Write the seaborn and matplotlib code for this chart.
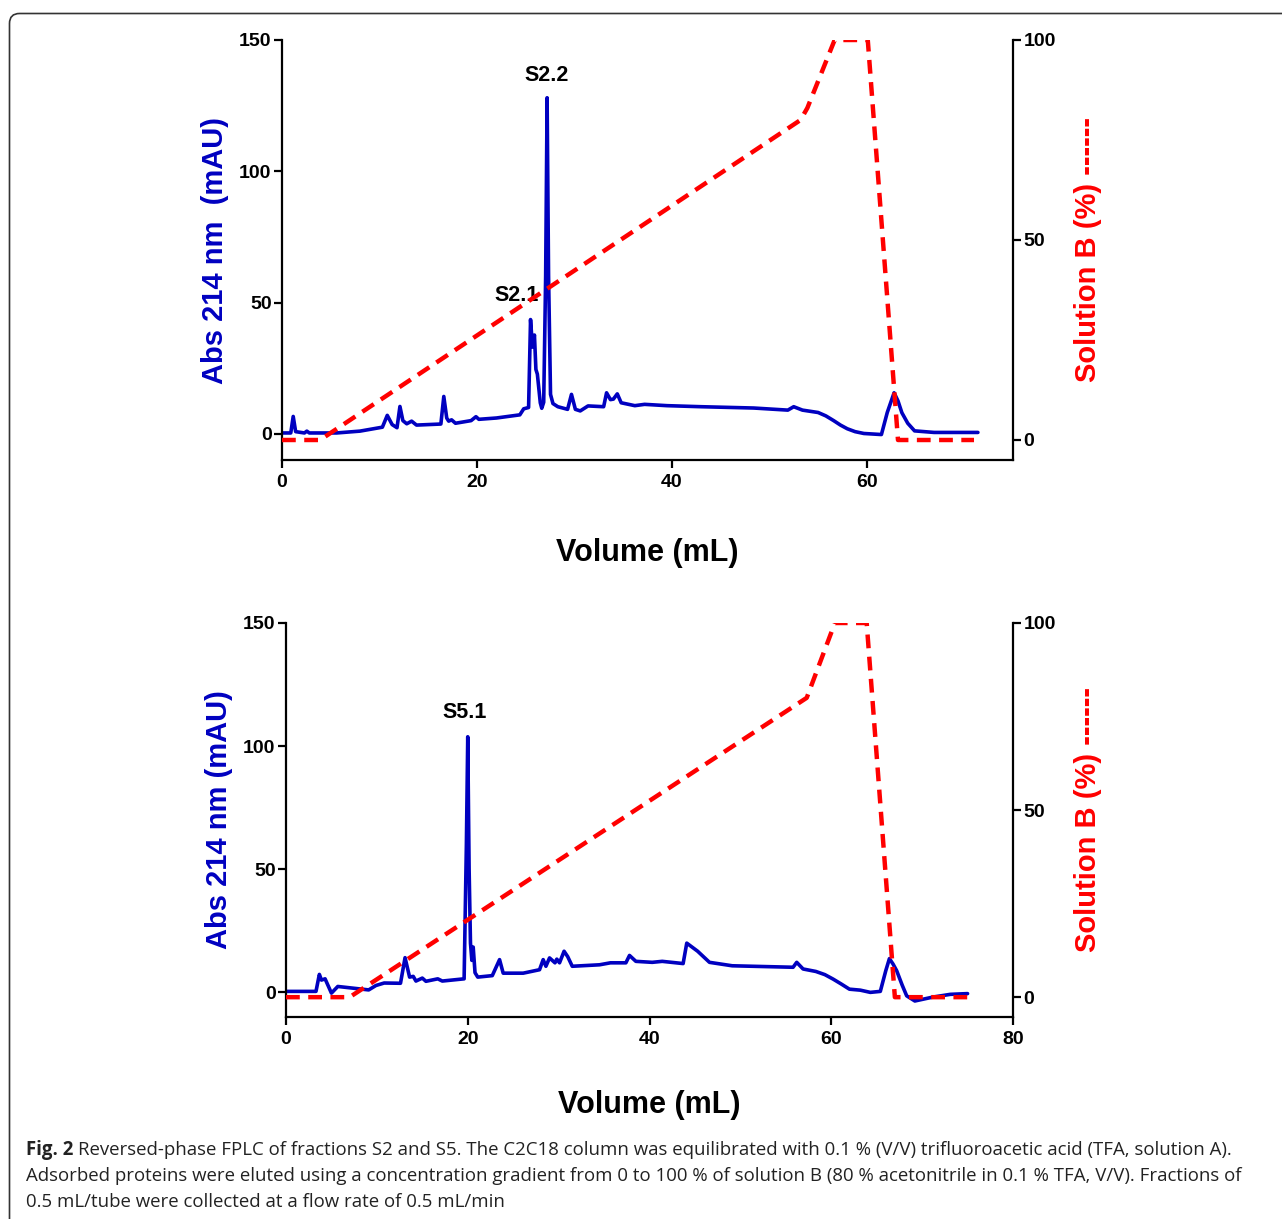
import matplotlib
matplotlib.use("Agg")
import matplotlib.pyplot as plt
import seaborn as sns
import numpy as np
import pandas as pd
from matplotlib.patches import FancyBboxPatch
from matplotlib.transforms import IdentityTransform

# ---------------- data ----------------
# Panel 1 (fraction S2): absorbance trace
s2_volume = [0, 0.9, 1.15, 1.4, 2.3, 2.55, 2.8, 5.6, 8.0, 10.3, 10.8, 11.3, 11.8, 12.1, 12.4,
             12.8, 13.3, 13.8, 16.3, 16.6, 16.9, 17.1, 17.4, 17.8, 19.4, 19.9, 20.2, 22.0,
             24.4, 24.8, 25.3, 25.5, 25.7, 25.9, 26.05, 26.2, 26.5, 26.65, 26.85, 27.05,
             27.2, 27.35, 27.55, 27.8, 28.3, 29.3, 29.7, 30.1, 30.6, 31.4, 33.0, 33.3,
             33.7, 34.0, 34.4, 34.8, 36.2, 37.2, 39.5, 43.0, 48.4, 51.9, 52.5, 53.4, 55.0,
             55.8, 56.6, 57.3, 58.0, 58.8, 59.7, 61.5, 62.1, 62.8, 63.2, 63.6, 64.2,
             64.9, 66.9, 71.4]
s2_abs = [0.3, 0.3, 6.6, 0.8, 0.3, 1.0, 0.3, 0.3, 1.0, 2.5, 7.0, 3.5, 2.3, 10.4, 5.0,
          3.8, 4.8, 3.3, 3.7, 14.2, 6.0, 4.8, 5.3, 4.0, 5.0, 6.5, 5.5, 6.0,
          7.2, 9.5, 10.0, 43.5, 33.0, 37.6, 24.5, 22.7, 11.8, 9.7, 12.0, 60.0,
          128.0, 60.0, 15.0, 11.5, 10.3, 9.3, 15.0, 9.3, 8.7, 10.6, 10.3, 15.6,
          13.0, 13.2, 15.2, 11.8, 10.7, 11.2, 10.7, 10.3, 9.8, 9.0, 10.3, 9.0, 8.1,
          6.8, 5.0, 3.3, 1.9, 0.8, 0.1, -0.3, 8.1, 15.6, 12.5, 8.0, 4.0,
          1.1, 0.5, 0.5]
# Panel 1 gradient (% solution B)
s2_grad_volume = [0, 3.9, 53.2, 53.9, 56.7, 60.1, 63.2, 71.0]
s2_grad_b = [0, 0, 80, 83, 100, 100, 0, 0]

# Panel 2 (fraction S5): absorbance trace
s5_volume = [0, 3.3, 3.67, 3.9, 4.3, 5.0, 5.7, 9.1, 9.9, 10.8, 12.6, 13.1, 13.6, 14.0, 14.3,
             15.0, 15.4, 16.7, 17.2, 19.6, 19.85, 20.0, 20.15, 20.3, 20.45, 20.6, 20.8,
             21.1, 22.7, 23.5, 23.9, 26.1, 27.9, 28.3, 28.6, 29.0, 29.6, 29.8, 30.1, 30.6,
             31.0, 31.5, 34.5, 35.7, 37.4, 37.8, 38.5, 40.3, 41.4, 43.7, 44.1, 45.3, 46.6,
             49.1, 55.8, 56.2, 56.9, 58.3, 59.3, 60.2, 61.1, 62.0, 63.2, 64.3, 65.4, 66.0,
             66.4, 66.8, 67.2, 67.8, 68.3, 69.2, 71.2, 73.1, 75.0]
s5_abs = [0.4, 0.4, 7.3, 5.0, 5.5, -0.3, 2.4, 1.0, 2.8, 3.8, 3.7, 14.1, 6.2, 6.5, 4.6,
          5.8, 4.5, 5.5, 4.6, 5.5, 60.0, 103.8, 50.0, 20.0, 13.0, 18.4, 8.0,
          6.2, 6.8, 13.3, 7.8, 7.8, 9.2, 13.3, 10.6, 14.0, 12.0, 13.5, 12.0, 16.7,
          14.5, 10.6, 11.2, 12.0, 12.0, 15.0, 12.6, 12.2, 12.6, 11.7, 20.0, 16.7, 12.2,
          10.8, 10.2, 12.2, 9.5, 8.5, 7.2, 5.4, 3.4, 1.3, 0.9, 0.0, 0.4, 8.8,
          13.7, 11.5, 8.8, 3.0, -1.4, -3.5, -1.9, -0.8, -0.5]
s5_grad_volume = [0, 7.0, 57.3, 60.4, 63.9, 67.0, 75.0]
s5_grad_b = [0, 0, 80, 100, 100, 0, 0]

# peak labels (text, volume, absorbance)
s2_peaks = [("S2.2", 27.1, 136.5), ("S2.1", 24.05, 52.5)]
s5_peaks = [("S5.1", 19.7, 113.5)]

x_ticks_top = [0, 20, 40, 60]
x_ticks_bottom = [0, 20, 40, 60, 80]
y_ticks_left = [0, 50, 100, 150]
y_ticks_right = [0, 50, 100]

caption_bold = "Fig. 2"
caption_lines = [
    "Reversed-phase FPLC of fractions S2 and S5. The C2C18 column was equilibrated with 0.1 % (V/V) trifluoroacetic acid (TFA, solution A).",
    "Adsorbed proteins were eluted using a concentration gradient from 0 to 100 % of solution B (80 % acetonitrile in 0.1 % TFA, V/V). Fractions of",
    "0.5 mL/tube were collected at a flow rate of 0.5 mL/min",
]

# ---------------- style ----------------
sns.set_theme(style="ticks")
plt.rcParams["font.family"] = ["Liberation Sans", "DejaVu Sans"]
plt.rcParams["font.weight"] = "bold"

BLUE = "#0000C0"
RED = "#FF0000"
W, H = 1282, 1219
fig = plt.figure(figsize=(W / 100, H / 100), dpi=100)
fig.patch.set_facecolor("white")


def px_rect(left, top, right, bottom):
    return [left / W, 1 - bottom / H, (right - left) / W, (bottom - top) / H]


def make_panel(rect, vol, absb, gvol, gb, xlim, xticks, peaks, r_ylim, ylabel):
    ax = fig.add_axes(rect)
    df = pd.DataFrame({"Volume": vol, "Abs": absb})
    sns.lineplot(data=df, x="Volume", y="Abs", ax=ax, color=BLUE, lw=2.6,
                 estimator=None, sort=False)
    ax.set_xlim(*xlim)
    ax.set_ylim(-10, 150)
    ax.set_xticks(xticks)
    ax.set_yticks(y_ticks_left)
    for s in ["top", "right"]:
        ax.spines[s].set_visible(False)
    for s in ["left", "bottom"]:
        ax.spines[s].set_linewidth(1.6)
        ax.spines[s].set_color("black")
    ax.tick_params(axis="both", direction="out", length=6, width=1.6, labelsize=14,
                   colors="black")
    ax.tick_params(axis="y", pad=1.5)
    ax.tick_params(axis="x", pad=4)
    for lab in ax.get_xticklabels() + ax.get_yticklabels():
        lab.set_fontweight("bold")
    ax.set_xlabel("Volume (mL)", fontsize=22, fontweight="bold", color="black")
    ax.xaxis.set_label_coords(0.5, -0.185)
    ax.set_ylabel(ylabel, fontsize=21, fontweight="bold", color=BLUE, va="center")
    ax.yaxis.set_label_coords(-0.092, 0.5)
    for txt, xv, yv in peaks:
        ax.text(xv, yv, txt, ha="center", va="center", fontsize=15.5,
                fontweight="bold", color="black")

    ax2 = ax.twinx()
    gdf = pd.DataFrame({"Volume": gvol, "B": gb})
    sns.lineplot(data=gdf, x="Volume", y="B", ax=ax2, color=RED, lw=3.2,
                 linestyle=(0, (3.1, 1.9)), estimator=None, sort=False)
    ax2.set_ylim(*r_ylim)
    ax2.set_yticks(y_ticks_right)
    ax2.set_xlim(*xlim)
    for s in ["top", "left", "bottom"]:
        ax2.spines[s].set_visible(False)
    ax2.spines["right"].set_linewidth(1.6)
    ax2.spines["right"].set_color("black")
    ax2.tick_params(axis="y", direction="out", length=6, width=1.6, labelsize=14,
                    colors="black", pad=1.5)
    for lab in ax2.get_yticklabels():
        lab.set_fontweight("bold")
    ax2.set_ylabel("Solution B (%) ------", fontsize=21, fontweight="bold",
                   color=RED, va="center", rotation=90)
    ax2.yaxis.set_label_coords(1.103, 0.5)
    ax.grid(False)
    ax2.grid(False)
    return ax, ax2


make_panel(px_rect(282, 40, 1013, 460), s2_volume, s2_abs, s2_grad_volume, s2_grad_b,
           (0, 75), x_ticks_top, s2_peaks, (-5, 100), "Abs 214 nm  (mAU)")
make_panel(px_rect(286, 623, 1013, 1017), s5_volume, s5_abs, s5_grad_volume, s5_grad_b,
           (0, 80), x_ticks_bottom, s5_peaks, (-5.3, 100), "Abs 214 nm (mAU)")

# ---------------- frame and caption ----------------
frame = FancyBboxPatch((9.5, -40), 1400, H - 13.5 + 40,
                       boxstyle="round,pad=0,rounding_size=10",
                       transform=IdentityTransform(), fill=False,
                       edgecolor="#333333", linewidth=1.2)
fig.add_artist(frame)

cap_fs = 13.4
cap_family = ["Open Sans", "DejaVu Sans"]
line_y = [1150, 1176, 1202]
x0 = 26 / W
renderer = fig.canvas.get_renderer()
tb = fig.text(x0, 1 - line_y[0] / H, caption_bold, fontsize=cap_fs, fontweight="bold",
              family=cap_family, va="center", ha="left", color="#222222")
bb = tb.get_window_extent(renderer)
fig.text((bb.x1 + 5) / W, 1 - line_y[0] / H, caption_lines[0], fontsize=cap_fs,
         fontweight="normal", family=cap_family, va="center", ha="left", color="#222222")
for ly, txt in zip(line_y[1:], caption_lines[1:]):
    fig.text(x0, 1 - ly / H, txt, fontsize=cap_fs, fontweight="normal",
             family=cap_family, va="center", ha="left", color="#222222")

fig.savefig("out.png", dpi=100, facecolor="white")
